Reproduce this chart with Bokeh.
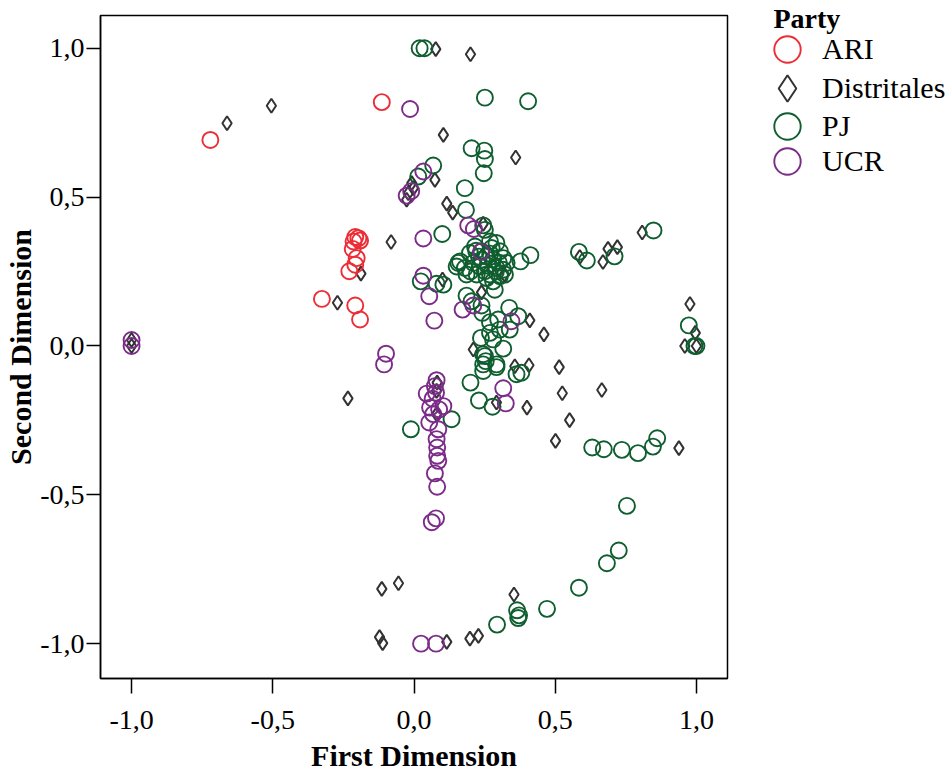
from bokeh.plotting import figure
from bokeh.layouts import row
from bokeh.models import Range1d, FixedTicker, Legend, LegendItem, Label
from bokeh.embed import file_html
from bokeh.resources import INLINE

# ---------------- data ----------------
ari_x = [-0.721, -0.114, -0.208, -0.197, -0.191, -0.214, -0.217, -0.203, -0.208, -0.229, -0.326, -0.208, -0.191]
ari_y = [0.692, 0.819, 0.366, 0.362, 0.354, 0.351, 0.326, 0.295, 0.273, 0.251, 0.158, 0.136, 0.089]

dist_x = [0.077, 0.200, -0.505, -0.662, 0.104, 0.360, 0.074, -0.008, -0.002, -0.020, -0.026, 0.116, 0.137,
          0.245, -0.081, 0.101, 0.239, 0.320, 0.410, 0.460, 0.210, 0.587, 0.669, 0.687, 0.720, 0.808,
          0.977, 0.996, 0.959, 1.000, -0.188, -0.271, -1.000, -1.000, 0.357, 0.407, 0.514, 0.525, 0.665,
          0.551, 0.501, 0.400, 0.292, 0.938, 0.082, 0.080, 0.080, -0.234, -0.055, -0.114, 0.354, -0.122,
          -0.111, 0.116, 0.198, 0.228]
dist_y = [0.997, 0.980, 0.807, 0.748, 0.709, 0.633, 0.558, 0.547, 0.530, 0.513, 0.491, 0.478, 0.448,
          0.410, 0.349, 0.223, 0.180, 0.240, 0.086, 0.039, -0.012, 0.299, 0.282, 0.326, 0.332, 0.381,
          0.141, 0.044, 0.000, 0.000, 0.243, 0.145, 0.020, 0.000, -0.068, -0.065, -0.071, -0.159, -0.148,
          -0.249, -0.319, -0.207, -0.190, -0.343, -0.123, -0.151, -0.229, -0.176, -0.797, -0.816, -0.835, -0.978,
          -0.998, -0.994, -0.983, -0.974]

pj_x = [0.020, 0.037, 0.251, 0.404, 0.068, 0.015, 0.204, 0.249, 0.251, 0.247, 0.180, 0.184, 0.245, 0.251, 0.100,
        0.216, 0.198, 0.269, 0.292, 0.275, 0.304, 0.257, 0.280, 0.316, 0.328, 0.157, 0.151, 0.180, 0.210,
        0.233, 0.251, 0.269, 0.222, 0.186, 0.292, 0.316, 0.304, 0.280, 0.257, 0.322, 0.286, 0.239, 0.163,
        0.230, 0.220, 0.260, 0.300, 0.270, 0.240, 0.200, 0.290,
        0.412, 0.377, 0.584, 0.612, 0.710, 0.848,
        0.024, 0.080, 0.104, 0.186, 0.204, 0.239, 0.242, 0.337, 0.369, 0.269, 0.298, 0.304, 0.339, 0.237,
        0.280, 0.316, 0.269, 0.251, 0.245, 0.292, 0.245, 0.254, 0.292, 0.245, 0.363, 0.380, 0.200, 0.230,
        0.278, 0.133, -0.011,
        0.973, 0.993, 1.000,
        0.631, 0.672, 0.736, 0.793, 0.846, 0.861, 0.754, 0.725, 0.683, 0.584, 0.471, 0.365, 0.372, 0.369, 0.294]
pj_y = [1.000, 1.000, 0.834, 0.822, 0.606, 0.569, 0.664, 0.656, 0.628, 0.580, 0.530, 0.457, 0.405, 0.390, 0.376,
        0.334, 0.312, 0.351, 0.346, 0.329, 0.318, 0.301, 0.290, 0.295, 0.279, 0.279, 0.267, 0.262, 0.279,
        0.267, 0.251, 0.240, 0.240, 0.240, 0.262, 0.256, 0.234, 0.217, 0.228, 0.240, 0.189, 0.318, 0.284,
        0.300, 0.320, 0.270, 0.280, 0.310, 0.290, 0.250, 0.250,
        0.305, 0.284, 0.316, 0.287, 0.301, 0.388,
        0.217, 0.209, 0.206, 0.169, 0.150, 0.136, 0.111, 0.128, 0.100, 0.080, 0.089, 0.055, 0.055, 0.027,
        0.022, -0.009, 0.044, -0.034, -0.062, -0.062, -0.028, -0.051, -0.071, -0.084, -0.095, -0.090, -0.123, -0.183,
        -0.204, -0.246, -0.280,
        0.069, 0.000, 0.000,
        -0.341, -0.347, -0.349, -0.360, -0.338, -0.310, -0.537, -0.687, -0.730, -0.812, -0.883, -0.888, -0.905, -0.914, -0.936]

ucr_x = [-0.014, -0.026, -0.010, 0.033, 0.192, 0.212, 0.033, 0.237, 0.033, 0.054, 0.072, 0.172, 0.210, 0.345,
         -1.000, -1.000, -0.099, -0.106, 0.316, 0.325,
         0.080, 0.074, 0.045, 0.078, 0.066, 0.057, 0.104, 0.089, 0.068, 0.054, 0.086, 0.080, 0.082, 0.082,
         0.086, 0.074, 0.082, 0.078, 0.063, 0.025, 0.078]
ucr_y = [0.796, 0.505, 0.520, 0.586, 0.405, 0.393, 0.361, 0.316, 0.236, 0.167, 0.085, 0.122, 0.136, 0.083,
         0.020, 0.000, -0.026, -0.062, -0.142, -0.193,
         -0.115, -0.135, -0.160, -0.157, -0.177, -0.207, -0.202, -0.213, -0.229, -0.257, -0.280, -0.313, -0.341, -0.369,
         -0.386, -0.428, -0.473, -0.579, -0.592, -1.000, -1.000]

legend_title = "Party"
party_names = ["ARI", "Distritales", "PJ", "UCR"]
tick_values = [-1, -0.5, 0, 0.5, 1]
tick_labels = ["-1,0", "-0,5", "0,0", "0,5", "1,0"]

# ---------------- styles ----------------
FONT = "Liberation Serif"
RED = "#EC2D35"
GREEN = "#0F5E2F"
PURPLE = "#7B2B88"
DARK = "#333333"
styles = {
    "ARI": dict(marker="circle", line_color=RED, line_width=1.9),
    "Distritales": dict(marker="diamond", line_color=DARK, line_width=2),
    "PJ": dict(marker="circle", line_color=GREEN, line_width=1.9),
    "UCR": dict(marker="circle", line_color=PURPLE, line_width=1.9),
}

# ---------------- main figure ----------------
FRAME_L, FRAME_T, FRAME_R, FRAME_B = 100, 15, 727, 680
PW, H = 738, 774

p = figure(width=PW, height=H, output_backend="svg", toolbar_location=None,
           x_range=Range1d(-1.11, 1.11), y_range=Range1d(-1.117, 1.11),
           min_border_left=FRAME_L, min_border_top=FRAME_T, min_border_bottom=H - FRAME_B,
           min_border_right=PW - FRAME_R,
           background_fill_color="white", border_fill_color="white")
p.grid.visible = False
p.outline_line_color = "black"
p.outline_line_width = 1.5
p.outline_line_alpha = 1.0

overrides = {}
for v, lab in zip(tick_values, tick_labels):
    key = int(v) if float(v).is_integer() else v
    overrides[key] = lab

for ax in (p.xaxis[0], p.yaxis[0]):
    ax.ticker = FixedTicker(ticks=tick_values)
    ax.major_label_overrides = overrides
    ax.minor_tick_line_color = None
    ax.major_tick_in = 0
    ax.major_tick_line_color = "black"
    ax.major_tick_line_width = 1.5
    ax.axis_line_color = "black"
    ax.axis_line_width = 1.5
    ax.major_label_text_font = FONT
    ax.major_label_text_font_size = "28px"
    ax.major_label_text_color = "black"
    ax.axis_label_text_font = FONT
    ax.axis_label_text_font_size = "30px"
    ax.axis_label_text_font_style = "bold"
    ax.axis_label_text_color = "black"

p.xaxis.major_tick_out = 15
p.xaxis.major_label_standoff = 17
p.xaxis.axis_label_standoff = 7
p.yaxis.major_tick_out = 14
p.yaxis.major_label_standoff = 2
p.yaxis.axis_label_standoff = 0

p.xaxis.axis_label = "First Dimension"
p.yaxis.axis_label = "Second Dimension"
p.yaxis.major_label_orientation = "horizontal"

series = {"ARI": (ari_x, ari_y), "Distritales": (dist_x, dist_y), "PJ": (pj_x, pj_y), "UCR": (ucr_x, ucr_y)}
sizes = {"ARI": 16, "Distritales": 14, "PJ": 16, "UCR": 16}
for name in ["Distritales", "PJ", "UCR", "ARI"]:
    xs, ys = series[name]
    p.scatter(xs, ys, size=sizes[name], fill_alpha=0, **styles[name])

# ---------------- legend panel (separate canvas to the right) ----------------
LW = 212
leg = figure(width=LW, height=H, output_backend="svg", toolbar_location=None,
             x_range=Range1d(0, 1), y_range=Range1d(0, 1),
             x_axis_location=None, y_axis_location=None,
             min_border_left=0, min_border_right=0, min_border_top=0, min_border_bottom=0,
             outline_line_color=None, background_fill_color="white", border_fill_color="white")
leg.grid.visible = False
for fig in (p, leg):
    try:
        fig.frame_align = False
    except Exception:
        pass

row_centers = [49, 88, 126, 161]   # px from top
GLYPH = 66
GLYPH_LEFT = 754 - PW               # left edge of glyph box, px inside the legend canvas
for name, cy in zip(party_names, row_centers):
    # swatch renderer: a single point kept outside the legend canvas' visible range
    swatch = leg.scatter(x=[-5], y=[-5], size=16, fill_alpha=0, **styles[name])
    lg = Legend(items=[LegendItem(label=name, renderers=[swatch])],
                location=(GLYPH_LEFT, H - (cy - GLYPH // 2) - GLYPH),
                glyph_width=GLYPH, glyph_height=GLYPH, label_standoff=2,
                padding=0, margin=0, spacing=0,
                border_line_color=None, background_fill_alpha=0,
                label_text_font=FONT, label_text_font_size="30px", label_text_color="black")
    leg.add_layout(lg, "center")

leg.add_layout(Label(x=773 - PW, y=H - 18, x_units="screen", y_units="screen",
                     text=legend_title, text_font=FONT, text_font_size="28px",
                     text_font_style="bold", text_color="black", text_baseline="alphabetic"))

layout = row(p, leg, spacing=0)
open("out.html", "w").write(file_html(layout, INLINE))
